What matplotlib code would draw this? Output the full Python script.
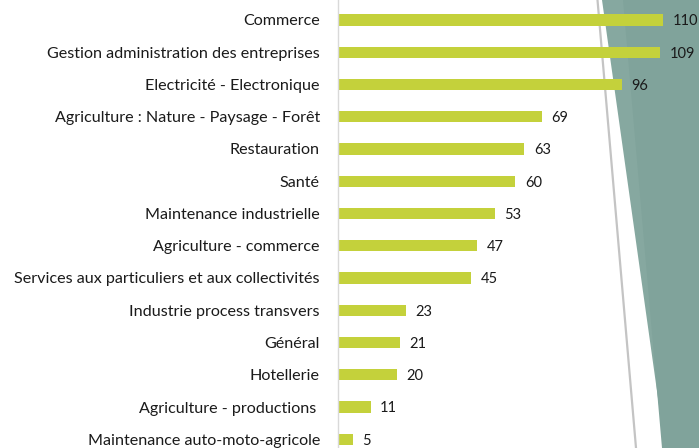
import matplotlib.pyplot as plt
from matplotlib.patches import Polygon
from matplotlib.lines import Line2D

categories = [
    "Commerce",
    "Gestion administration des entreprises",
    "Electricité - Electronique",
    "Agriculture : Nature - Paysage - Forêt",
    "Restauration",
    "Santé",
    "Maintenance industrielle",
    "Agriculture - commerce",
    "Services aux particuliers et aux collectivités",
    "Industrie process transvers",
    "Général",
    "Hotellerie",
    "Agriculture - productions ",
    "Maintenance auto-moto-agricole",
]
values = [110, 109, 96, 69, 63, 60, 53, 47, 45, 23, 21, 20, 11, 5]

plt.rcParams['font.family'] = ['Lato', 'DejaVu Sans']

W, H = 699, 448
fig = plt.figure(figsize=(W / 100, H / 100), dpi=100)

# decorative teal shape on the right (figure pixel coords, y from top)
def fp(x, y):
    return (x / W, 1 - y / H)

teal = Polygon([fp(602, 0), fp(W, 0), fp(W, H), fp(665, H)],
               closed=True, transform=fig.transFigure, facecolor='#86a8a0',
               edgecolor='none', zorder=-2)
fig.patches.append(teal)
teal2 = Polygon([fp(623, 0), fp(W, 0), fp(W, H), fp(662, H)],
                closed=True, transform=fig.transFigure, facecolor='#80a39b',
                edgecolor='none', zorder=-2)
fig.patches.append(teal2)
fig.lines.append(Line2D([597.5 / W, 636 / W], [1, 0], transform=fig.transFigure,
                        color='#c4c4c4', lw=1.6, zorder=-1))

ax = fig.add_axes([338 / W, 0, 1 - 338 / W, 1])
ax.set_zorder(1)
ax.patch.set_alpha(0)

pos = list(range(len(categories)))
bars = ax.barh(pos, values, height=0.35, color='#c4d13b', zorder=2)

ax.set_xlim(0, (W - 338) / 2.955)
ax.set_ylim((H - 20) / 32.25, -20 / 32.25)

ax.set_yticks(pos)
ax.set_yticklabels(categories, fontsize=11.6, color='#1a1a1a')
ax.tick_params(axis='y', length=0, pad=13)
ax.set_xticks([])

for s in ['top', 'right', 'bottom']:
    ax.spines[s].set_visible(False)
ax.spines['left'].set_color('#d9d9d9')
ax.spines['left'].set_linewidth(1)

for b, v in zip(bars, values):
    ax.annotate(str(v), (b.get_width(), b.get_y() + b.get_height() / 2),
                xytext=(7, -1), textcoords='offset points', va='center',
                ha='left', fontsize=10.5, color='#1a1a1a')

fig.savefig('out.png', dpi=100)
